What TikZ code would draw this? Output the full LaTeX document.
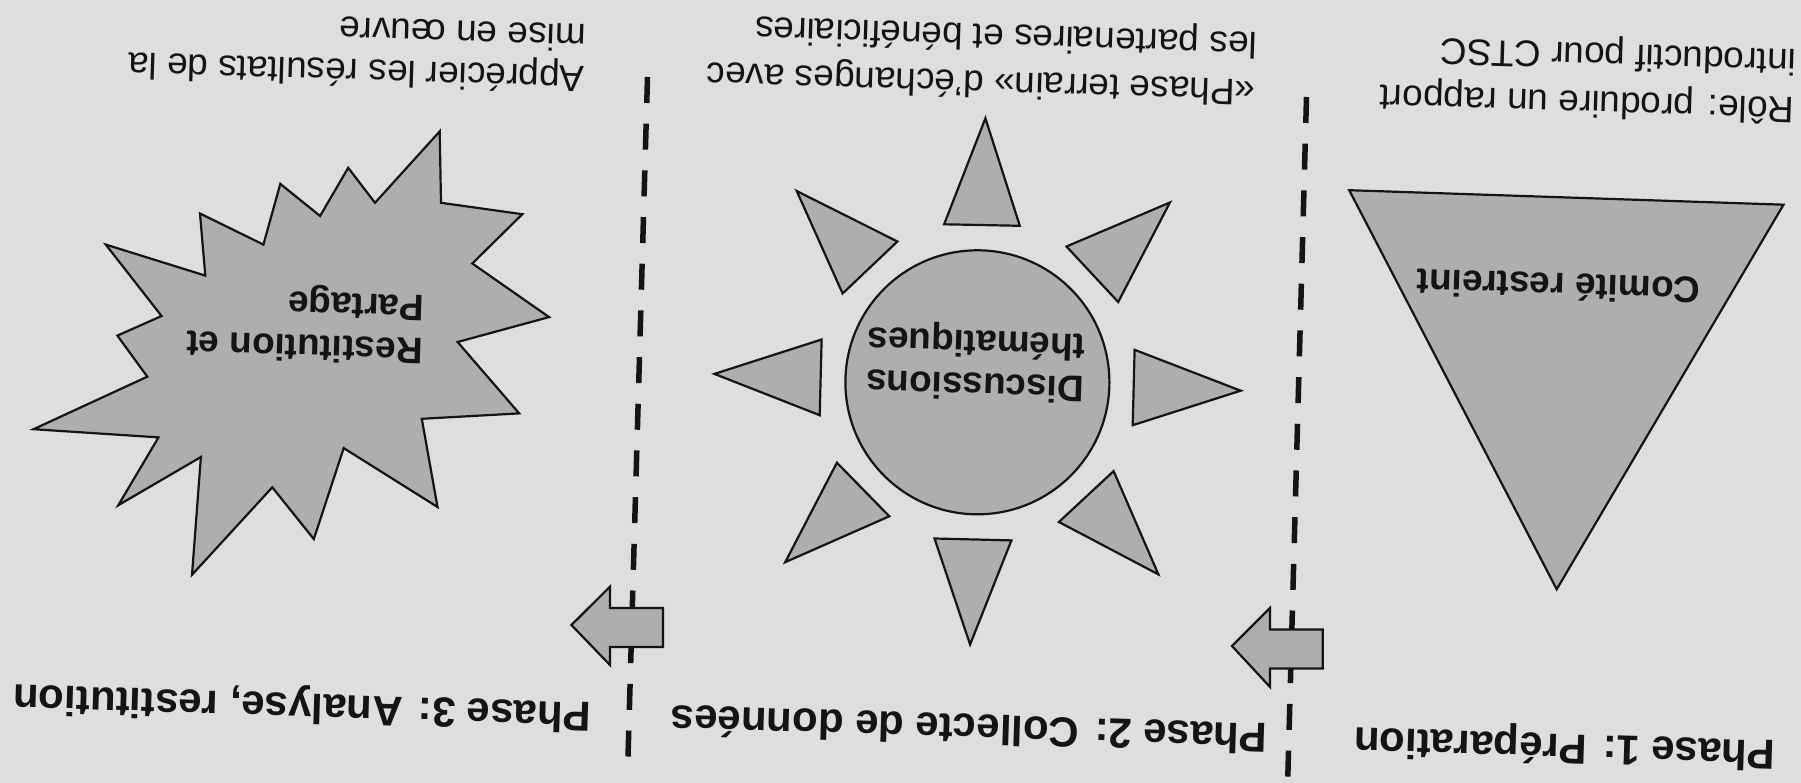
\documentclass[tikz,border=0pt]{standalone}
\usepackage{fontspec}
\setmainfont{Liberation Sans}
\definecolor{bggray}{RGB}{222,222,222}
\definecolor{shapegray}{RGB}{174,174,174}
\definecolor{inkcol}{RGB}{20,20,20}
\newcommand\mybodyfont{\fontsize{37}{42}\selectfont}
\newcommand\myphasefont{\fontsize{42}{48}\selectfont\bfseries}
\begin{document}
\begin{tikzpicture}[x=1pt,y=-1pt,
  shapefill/.style={fill=shapegray, draw=inkcol, line width=2.2pt, line join=miter},
  txt/.style={inner sep=0pt, anchor=base west, rotate=178.2, font=\mybodyfont, text=inkcol},
  boldtxt/.style={txt, font=\mybodyfont\bfseries},
  phasetxt/.style={txt, font=\myphasefont},
  divider/.style={draw=inkcol, line width=5.5pt, dash pattern=on 26pt off 20.7pt}]
\useasboundingbox (0,0) rectangle (1801,783);
\fill[bggray] (0,0) rectangle (1801,783);

% dashed dividers
\coordinate (d1a) at (1306.5,97);
\coordinate (d1b) at (1287.8,777);
\coordinate (d2a) at (647.5,77);
\coordinate (d2b) at (628,757);
\draw[divider] (d1a) -- (d1b);
\draw[divider] (d2a) -- (d2b);

% block arrows
\draw[shapefill] (1232,646) -- (1270,608) -- (1270,629.4) -- (1322.7,629.4)
  -- (1322.7,668.4) -- (1270,668.4) -- (1270,687) -- cycle;
\draw[shapefill] (571.4,625) -- (610,586.7) -- (610,608) -- (663,608)
  -- (663,647) -- (610,647) -- (610,665) -- cycle;

% Phase 1 : triangle
\draw[shapefill] (1349.2,190.2) -- (1783.5,204.7) -- (1556.7,589.3) -- cycle;
\node[boldtxt] (comite) at (1701,278) {Comité restreint};

% Phase 2 : sun
\node[shapefill, circle, minimum size=264pt, inner sep=0pt] (sun) at (977.4,382.3) {};
\draw[shapefill] (985.4,118.3) -- (944.1,224.3) -- (1019.8,225.8) -- cycle;
\draw[shapefill] (1169.9,202.5) -- (1066.5,246.5) -- (1118.2,302) -- cycle;
\draw[shapefill] (1240.7,390.7) -- (1134.6,349.8) -- (1132.7,425.2) -- cycle;
\draw[shapefill] (1113.6,471.1) -- (1058.9,522) -- (1158.4,574.4) -- cycle;
\draw[shapefill] (970.1,644.5) -- (934.5,538.5) -- (1011.4,540.4) -- cycle;
\draw[shapefill] (836.9,462.7) -- (889.3,516.3) -- (785.2,562.2) -- cycle;
\draw[shapefill] (714.4,373.9) -- (821.6,339.5) -- (819.7,415.2) -- cycle;
\draw[shapefill] (796.7,191) -- (897.4,241.5) -- (842.6,293.5) -- cycle;
\node[boldtxt] (disc1) at (1084.5,377) {Discussions};
\node[boldtxt] (disc2) at (1086,334.5) {thématiques};

% Phase 3 : starburst
\draw[shapefill] (439.7,131.4) -- (441.0,202.8) -- (522.3,214.2) -- (472.3,263.5)
  -- (549.1,317.1) -- (457.6,342.0) -- (519.2,413.4) -- (421.8,418.8)
  -- (437.5,507.0) -- (343.7,448.1) -- (313.8,539.1) -- (272.3,487.3)
  -- (192.0,574.8) -- (200.9,457.0) -- (118.3,505.2) -- (158.5,437.4)
  -- (33.5,429.2) -- (147.3,376.7) -- (117.4,335.6) -- (161.6,316.0)
  -- (105.8,244.6) -- (205.3,275.6) -- (200.0,213.5) -- (263.4,244.6)
  -- (280.3,183.9) -- (320.1,216.0) -- (348.2,167.8) -- (375.0,202.8) -- cycle;
\node[boldtxt] (rest1) at (423.2,339) {Restitution et};
\node[boldtxt] (rest2) at (424.5,296) {Partage};

% top descriptions
\node[txt] (role1) at (1795,98) {Rôle: produire un rapport};
\node[txt] (role2) at (1796.5,50) {introductif pour CTSC};
\node[txt] (terr1) at (1256,80) {«Phase terrain» d’échanges avec};
\node[txt] (terr2) at (1257.5,33) {les partenaires et bénéficiaires};
\node[txt] (appr1) at (585,67) {Apprécier les résultats de la};
\node[txt] (appr2) at (586.5,25) {mise en œuvre};

% phase labels
\node[phasetxt] (ph1) at (1776,741) {Phase 1: Préparation};
\node[phasetxt] (ph2) at (1268,724) {Phase 2: Collecte de données};
\node[phasetxt] (ph3) at (591.5,703) {Phase 3: Analyse, restitution};
\end{tikzpicture}
\end{document}
